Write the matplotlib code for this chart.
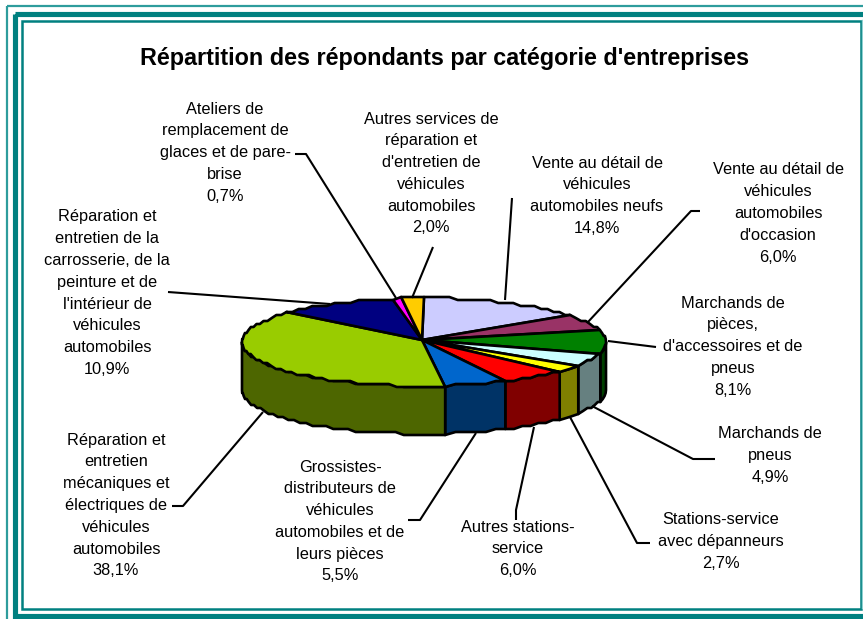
import numpy as np
import matplotlib
matplotlib.use("Agg")
import matplotlib.pyplot as plt
from matplotlib.patches import Polygon, Rectangle

plt.rcParams["font.family"] = ["Liberation Sans", "DejaVu Sans"]

TITLE = "Répartition des répondants par catégorie d'entreprises"

# clockwise from 12 o'clock
values = [14.8, 6.0, 8.1, 4.9, 2.7, 6.0, 5.5, 38.1, 10.9, 0.7, 2.0]
top_colors = ["#CCCCFF", "#993366", "#008000", "#CCFFFF", "#FFFF00", "#FF0000",
              "#0066CC", "#99CC00", "#000080", "#FF00FF", "#FFCC00"]
side_colors = ["#666680", "#4D1A33", "#004000", "#668080", "#808000", "#800000",
               "#003366", "#4D6600", "#000040", "#800080", "#806600"]

labels = [
    ["Vente au détail de", "véhicules", "automobiles neufs"],
    ["Vente au détail de", "véhicules", "automobiles", "d'occasion"],
    ["Marchands de", "pièces,", "d'accessoires et de", "pneus"],
    ["Marchands de", "pneus"],
    ["Stations-service", "avec dépanneurs"],
    ["Autres stations-", "service"],
    ["Grossistes-", "distributeurs de", "véhicules", "automobiles et de", "leurs pièces"],
    ["Réparation et", "entretien", "mécaniques et", "électriques de", "véhicules", "automobiles"],
    ["Réparation et", "entretien de la", "carrosserie, de la", "peinture et de", "l'intérieur de", "véhicules", "automobiles"],
    ["Ateliers de", "remplacement de", "glaces et de pare-", "brise"],
    ["Autres services de", "réparation et", "d'entretien de", "véhicules", "automobiles"],
]
pct_labels = ["14,8%", "6,0%", "8,1%", "4,9%", "2,7%", "6,0%", "5,5%", "38,1%", "10,9%", "0,7%", "2,0%"]

# centre x, first line y of each label block
label_pos = [(597, 163), (778, 170), (733, 303), (770, 434), (721, 520), (518, 527),
             (340, 467), (116, 440), (107, 217), (225, 109), (431, 119)]
leaders = [
    [(512, 198), (505, 300)],
    [(700, 211), (691, 211), (588, 322)],
    [(608, 341), (656, 347)],
    [(592, 406), (693, 459), (715, 459)],
    [(570, 417), (637, 543), (650, 543)],
    [(534, 427), (516, 510), (516, 520)],
    [(476, 433), (420, 520), (408, 520)],
    [(263, 412), (183, 506), (172, 506)],
    [(168, 292), (330, 304)],
    [(295, 154), (306, 154), (396, 298)],
    [(433, 247), (412, 298)],
]

CX, CY, RX, RY, DEPTH = 424, 342, 182, 44, 48
TEAL = "#008080"
STEP = 3  # the reference outline wobbles, snap rim heights to this


def rim(t0, t1):
    n = max(int(abs(t1 - t0) / 2.5), 2)
    t = np.radians(np.linspace(t0, t1, n))
    return np.column_stack((CX + RX * np.sin(t), np.round((CY - RY * np.cos(t)) / STEP) * STEP))


fig = plt.figure(figsize=(8.63, 6.19), dpi=100)
ax = fig.add_axes([0, 0, 1, 1])
ax.set_xlim(0, 863)
ax.set_ylim(619, 0)
ax.axis("off")

# triple frame, cut off by the right and bottom image edges
ax.add_patch(Rectangle((7, 6), 900, 900, fill=False, ec="#2E9C9C", lw=1.6))
ax.add_patch(Rectangle((14.5, 13.5), 900, 602, fill=False, ec=TEAL, lw=3.7))
ax.add_patch(Rectangle((21.5, 20.5), 839.5, 588.5, fill=False, ec=TEAL, lw=1.8))
ax.add_line(plt.Line2D([862, 862], [20, 608], color="#8FD0D0", lw=1))

ax.text(444.5, 58, TITLE, fontsize=16.8, fontweight="bold", ha="center", va="center")

edges = np.cumsum([0] + values) / sum(values) * 360

# walls first: only the front half (90 to 270 deg) can be seen
for i in range(len(values)):
    a, b = max(edges[i], 90), min(edges[i + 1], 270)
    if b <= a:
        continue
    pts = rim(a, b)
    wall = np.vstack((pts, pts[::-1] + [0, DEPTH]))
    ax.add_patch(Polygon(wall, closed=True, fc=side_colors[i], ec="black", lw=1.9, joinstyle="round"))

for i in range(len(values)):
    wedge = np.vstack(([CX - 2, CY - 2], rim(edges[i], edges[i + 1])))
    ax.add_patch(Polygon(wedge, closed=True, fc=top_colors[i], ec="black", lw=1.9, joinstyle="round"))

for path in leaders:
    xs, ys = zip(*path)
    ax.plot(xs, ys, color="black", lw=1.5, solid_capstyle="butt")

PITCH = 21.8
for lines, pct, (x, y) in zip(labels, pct_labels, label_pos):
    for j, line in enumerate(lines + [pct]):
        ax.text(x, y + j * PITCH, line, fontsize=11.8, ha="center", va="center")

fig.savefig("out.png", dpi=100, facecolor="white")
